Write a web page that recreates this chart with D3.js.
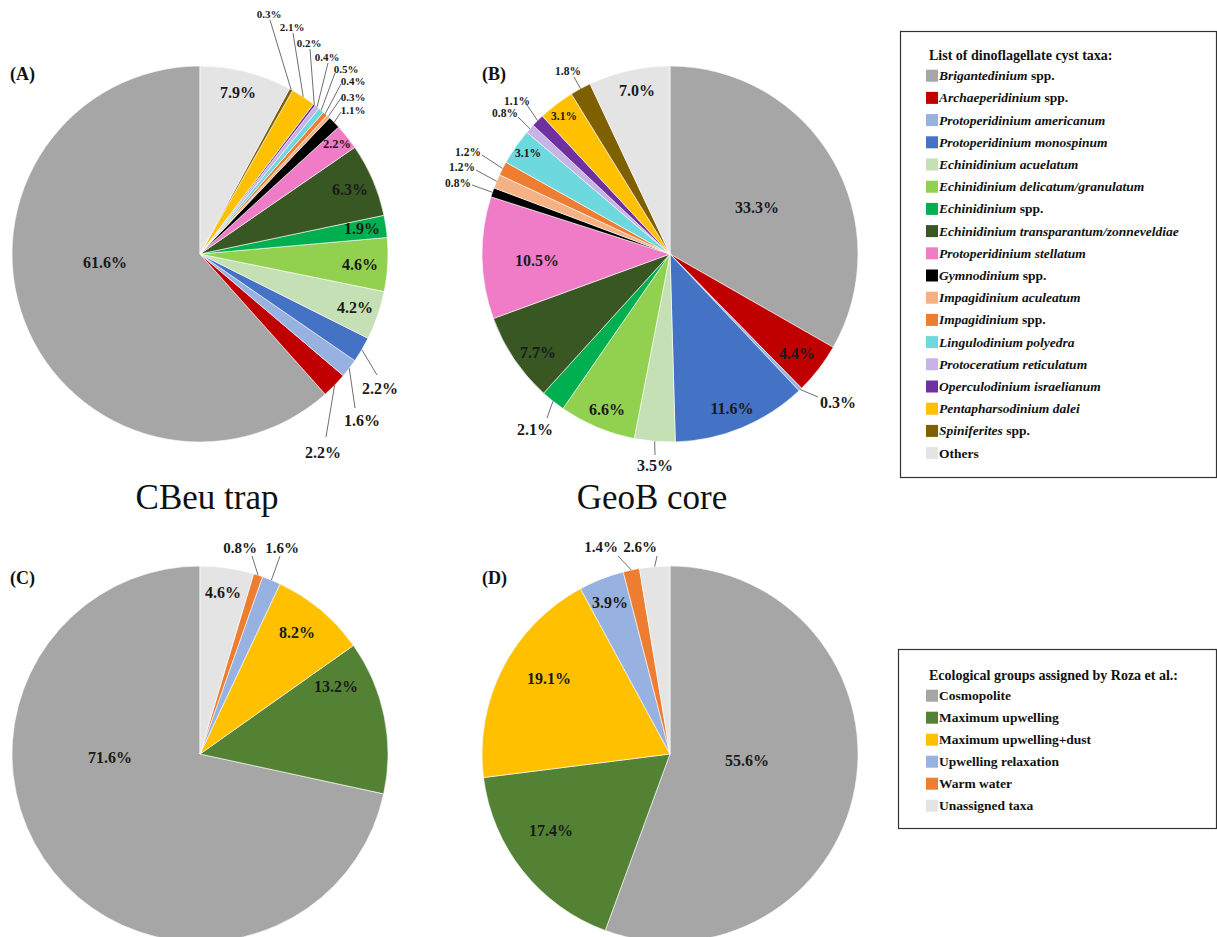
<!DOCTYPE html>
<html><head><meta charset="utf-8">
<script src="https://cdn.jsdelivr.net/npm/d3@7"></script>
<style>
html,body{margin:0;padding:0;background:#fff;}
svg{display:block;font-family:"Liberation Serif","Times New Roman",serif;}
</style></head>
<body>
<svg id="chart" width="1217" height="937"></svg>
<script>
// ---------- DATA ----------
const taxa = ["Brigantedinium spp.","Archaeperidinium spp.","Protoperidinium americanum","Protoperidinium monospinum",
  "Echinidinium acuelatum","Echinidinium delicatum/granulatum","Echinidinium spp.","Echinidinium transparantum/zonneveldiae",
  "Protoperidinium stellatum","Gymnodinium spp.","Impagidinium aculeatum","Impagidinium spp.","Lingulodinium polyedra",
  "Protoceratium reticulatum","Operculodinium israelianum","Pentapharsodinium dalei","Spiniferites spp.","Others"];
const taxaColors = ["#A6A6A6","#C00000","#97B1E1","#4472C4","#C5E0B4","#92D050","#00B050","#385723",
  "#F07CC8","#000000","#F4B183","#ED7D31","#6DD9DF","#C7B3E5","#7030A0","#FFC000","#7F6000","#E4E4E4"];
const cbeuTaxa = [61.6,2.2,1.6,2.2,4.2,4.6,1.9,6.3,2.2,1.1,0.3,0.4,0.5,0.4,0.2,2.1,0.3,7.9];
const geobTaxa = [33.3,4.4,0.3,11.6,3.5,6.6,2.1,7.7,10.5,0.8,1.2,1.2,3.1,0.8,1.1,3.1,1.8,7.0];

const groups = ["Cosmopolite","Maximum upwelling","Maximum upwelling+dust","Upwelling relaxation","Warm water","Unassigned taxa"];
const groupColors = ["#A6A6A6","#548235","#FFC000","#97B1E1","#ED7D31","#E4E4E4"];
const cbeuGroups = [71.6,13.2,8.2,1.6,0.8,4.6];
const geobGroups = [55.6,17.4,19.1,3.9,1.4,2.6];

const sampleTitles = ["CBeu trap","GeoB core"];
const panelLetters = ["(A)","(B)","(C)","(D)"];

// ---------- LABEL LAYOUT (style: text offset from pie centre, font size, optional leader end) ----------
const layoutA = [
  [-95,8,16],[123,198,16,126,183],[162,166,16,155,154],[180,134,16,177,121],[155,53,16],[160,10,16],[162,-26,16],[150,-65,16],
  [137,-110,12.5],[153,-144,11,141,-142],[153,-157,11,141,-156],[153,-173,11,141,-170],[146,-185,11,135,-181],
  [127,-197,11,128,-191],[109,-211,11,110,-205],[92,-227,11,93,-221],[69,-240,11,70,-234],[38,-162,16]];
const layoutB = [
  [87,-47,16],[127,99,16],[168,148,16,148,143],[62,154,16],[-15,211,16,-15,201],[-63,155,16],[-135,175,16,-123,164],
  [-132,98,16],[-133,6,16],[-212,-71,11.5,-198,-69],[-208,-87,11.5,-194,-84],[-202,-102,11.5,-188,-99],[-142,-101,11.5],
  [-165,-141,11.5,-152,-137],[-153,-153,11.5,-143,-149],[-106,-138,11.5],[-102,-183,11.5,-96,-177],[-33,-164,16]];
const layoutC = [[-90,3,16],[136,-68,16],[97,-122,16],[82,-206,15,80,-198],[40,-206,15,52,-198],[23,-162,16]];
const layoutD = [[77,6,16],[-119,76,16],[-121,-76,16],[-60,-152,16],[-69,-207,15,-52,-198],[-30,-207,15,-13,-198]];

// ---------- DRAW ----------
const svg = d3.select("#chart");
const R = 188;
const FONT = '"Liberation Serif","Times New Roman",serif';

function drawPie(cx, cy, values, colors, layout, ccw) {
  const g = svg.append("g").attr("transform", `translate(${cx},${cy})`);
  const pie = d3.pie().sort(null).value(d => d).startAngle(0).endAngle(ccw ? -2*Math.PI : 2*Math.PI);
  const arcs = pie(values);
  const arc = d3.arc().innerRadius(0).outerRadius(R);
  g.selectAll("path.slice").data(arcs).join("path")
    .attr("class","slice")
    .attr("d", arc)
    .attr("fill", (d,i) => colors[i])
    .attr("stroke", "#ffffff").attr("stroke-width", 0.6).attr("stroke-linejoin","round");
  // leaders
  arcs.forEach((d,i) => {
    const L = layout[i];
    if (L.length > 3) {
      const a = (d.startAngle + d.endAngle)/2;
      const sx = R*Math.sin(a), sy = -R*Math.cos(a);
      g.append("line").attr("x1", sx).attr("y1", sy).attr("x2", L[3]).attr("y2", L[4])
        .attr("stroke","#6f6f6f").attr("stroke-width",1);
    }
  });
  // labels
  arcs.forEach((d,i) => {
    const L = layout[i];
    g.append("text").attr("x", L[0]).attr("y", L[1]).attr("dy","0.35em")
      .attr("text-anchor","middle").attr("font-weight","bold").attr("font-size", L[2])
      .attr("fill","#1a1a1a").text(d.data.toFixed(1) + "%");
  });
}

drawPie(200, 254, cbeuTaxa, taxaColors, layoutA, true);
drawPie(670, 254, geobTaxa, taxaColors, layoutB, false);
drawPie(200, 754, cbeuGroups, groupColors, layoutC, true);
drawPie(670, 754, geobGroups, groupColors, layoutD, false);

// panel letters
[[10,80],[482,80],[10,584],[482,584]].forEach((p,i) => {
  svg.append("text").attr("x",p[0]).attr("y",p[1]).attr("font-weight","bold").attr("font-size",18)
    .attr("fill","#111").text(panelLetters[i]);
});
// sample titles
[[207,509],[652,509]].forEach((p,i) => {
  svg.append("text").attr("x",p[0]).attr("y",p[1]).attr("text-anchor","middle").attr("font-size",35)
    .attr("fill","#111").text(sampleTitles[i]);
});

// legends
function legend(x, y, w, h, title, names, colors, titleY, rowY, step, italicRule) {
  svg.append("rect").attr("x",x).attr("y",y).attr("width",w).attr("height",h)
    .attr("fill","#fff").attr("stroke","#333").attr("stroke-width",1.2);
  svg.append("text").attr("x",929).attr("y",titleY+5).attr("font-weight","bold").attr("font-size",14)
    .attr("fill","#111").text(title);
  names.forEach((n,i) => {
    const cyy = rowY + i*step;
    svg.append("rect").attr("x",926).attr("y",cyy-6).attr("width",12).attr("height",12).attr("fill",colors[i]);
    const t = svg.append("text").attr("x",939).attr("y",cyy+4.5).attr("font-weight","bold").attr("font-size",13.5).attr("fill","#111");
    if (italicRule) {
      let ital = n, rest = "";
      if (n === "Others") { ital = ""; rest = n; }
      else if (n.endsWith(" spp.")) { ital = n.slice(0, -5); rest = " spp."; }
      if (ital) t.append("tspan").attr("font-style","italic").text(ital);
      if (rest) t.append("tspan").attr("font-style","normal").text(rest);
    } else {
      t.text(n);
    }
  });
}
legend(900.5, 31.5, 316, 446, "List of dinoflagellate cyst taxa:", taxa, taxaColors, 55, 75.7, 22.2, true);
legend(898.5, 649.5, 318, 179, "Ecological groups assigned by Roza et al.:", groups, groupColors, 675, 695.7, 22, false);
</script>
</body></html>
